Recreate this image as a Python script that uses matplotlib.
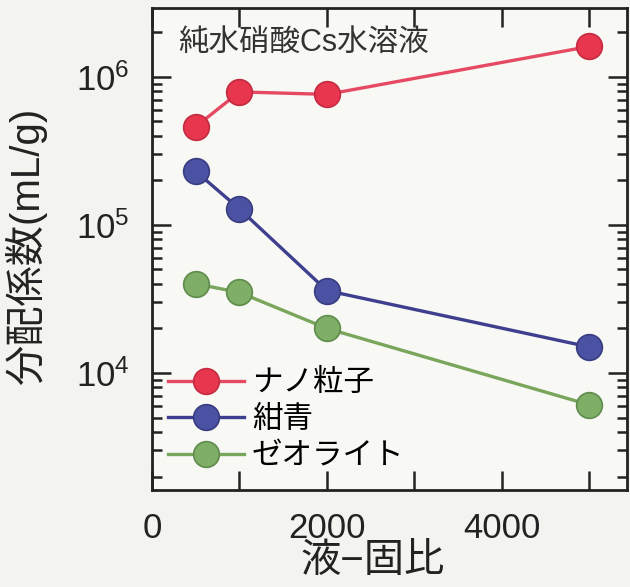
import math
import matplotlib
matplotlib.use("Agg")
import matplotlib.pyplot as plt
from matplotlib.ticker import LogLocator, MultipleLocator, FuncFormatter, NullFormatter

plt.rcParams['font.family'] = ['Liberation Sans', 'Noto Sans CJK JP', 'DejaVu Sans']
plt.rcParams['mathtext.default'] = 'regular'

# liquid/solid ratio and distribution coefficients (mL/g)
ratio = [500, 1000, 2000, 5000]
nano = [4.6e5, 7.9e5, 7.6e5, 1.6e6]
konjo = [2.3e5, 1.28e5, 3.6e4, 1.5e4]
zeolite = [4.0e4, 3.5e4, 2.0e4, 6.1e3]

series_names = ["ナノ粒子", "紺青", "ゼオライト"]
face_colors = ["#e9364f", "#4c52a3", "#7fae67"]
line_colors = ["#e64a62", "#3e3f8e", "#7aa65c"]
edge_colors = ["#c42a40", "#383c80", "#5f8c4c"]

fig = plt.figure(figsize=(6.3, 5.87), dpi=100)
fig.patch.set_facecolor("#f3f3ef")
ax = fig.add_axes([0.2413, 0.165, 0.7537, 0.821])
ax.set_facecolor("#f8f8f5")

for vals, name, fc, lc, ec in zip([nano, konjo, zeolite], series_names,
                                  face_colors, line_colors, edge_colors):
    ax.plot(ratio, vals, color=lc, lw=2.4, marker="o", markersize=18.5,
            markerfacecolor=fc, markeredgecolor=ec, markeredgewidth=1.2,
            label=name)

ax.set_yscale("log")
ax.set_xlim(0, 5430)
ax.set_ylim(1620, 2.9e6)

ax.xaxis.set_major_locator(MultipleLocator(2000))
ax.xaxis.set_minor_locator(MultipleLocator(1000))
ax.yaxis.set_major_locator(LogLocator(base=10, numticks=10))
ax.yaxis.set_minor_locator(LogLocator(base=10, subs=range(2, 10), numticks=20))
ax.yaxis.set_major_formatter(FuncFormatter(lambda v, p: r"$10^{%d}$" % round(math.log10(v))))
ax.yaxis.set_minor_formatter(NullFormatter())

ax.tick_params(which="both", direction="in", top=True, right=True, width=1.8,
               colors="#222222", labelsize=25)
ax.tick_params(axis="x", which="major", length=14, pad=16)
ax.tick_params(axis="x", which="minor", length=14)
ax.tick_params(axis="y", which="major", length=14, pad=16)
ax.tick_params(axis="y", which="minor", length=7)
for sp in ax.spines.values():
    sp.set_linewidth(2.0)
    sp.set_color("#222222")

ax.set_xlabel("液−固比", fontsize=29, color="#222222")
ax.xaxis.set_label_coords(0.465, -0.11, transform=ax.transAxes)
ax.xaxis.label.set_va("top")
ax.set_ylabel("分配係数(mL/g)", fontsize=29, color="#222222")
ax.yaxis.set_label_coords(-0.221, 0.506, transform=ax.transAxes)

ax.text(0.055, 0.96, "純水硝酸Cs水溶液", transform=ax.transAxes, fontsize=22,
        color="#333333", va="top", ha="left")

ax.legend(loc="lower left", bbox_to_anchor=(-0.005, 0.0), frameon=False,
          fontsize=22, handlelength=2.5, handletextpad=0.25, labelspacing=0.22,
          borderaxespad=0.2)

fig.savefig("out.png", dpi=100, facecolor=fig.get_facecolor())
